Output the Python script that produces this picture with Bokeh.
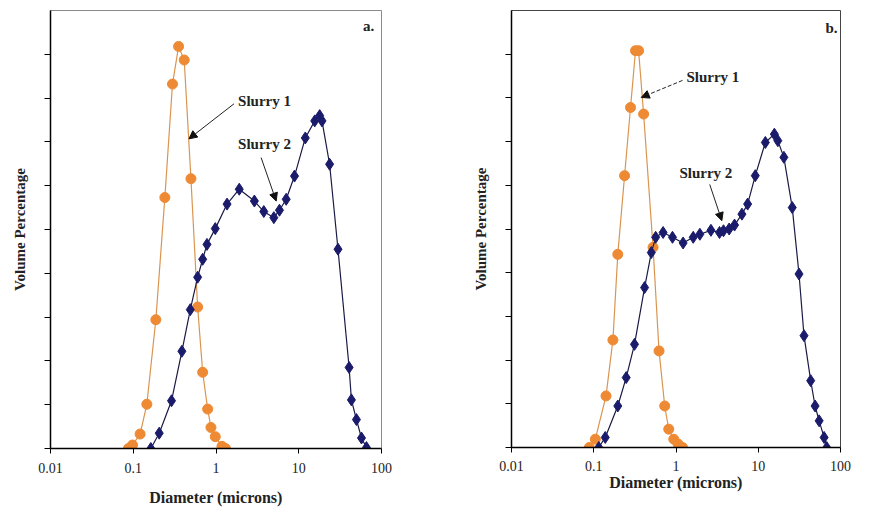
from bokeh.plotting import figure
from bokeh.layouts import row
from bokeh.models import Range1d, FixedTicker, CustomJSTickFormatter, Arrow, NormalHead, Label
from bokeh.embed import file_html
from bokeh.resources import INLINE

# ---------------- data ----------------
x_ticks = [0.01, 0.1, 1, 10, 100]
y_ticks = [0, 1, 2, 3, 4, 5, 6, 7, 8, 9]

# Panel a
a_s1_x = [0.0875, 0.098, 0.121, 0.146, 0.1875, 0.241, 0.298, 0.353, 0.413, 0.498, 0.600, 0.690, 0.793, 0.869, 0.98, 1.18, 1.30]
a_s1_y = [0.0, 0.08, 0.33, 1.01, 2.94, 5.73, 8.32, 9.18, 8.87, 6.16, 3.23, 1.74, 0.90, 0.48, 0.27, 0.05, 0.0]
a_s2_x = [0.163, 0.206, 0.290, 0.387, 0.489, 0.600, 0.690, 0.778, 0.98, 1.36, 1.91, 2.91, 3.78, 5.0, 5.85, 7.05, 8.89,
          12.0, 15.6, 17.9, 19.1, 23.6, 29.8, 40.6, 43.3, 49.8, 57.3, 65.8]
a_s2_y = [0.0, 0.35, 1.09, 2.22, 3.17, 3.91, 4.32, 4.66, 5.02, 5.58, 5.92, 5.65, 5.41, 5.27, 5.44, 5.69, 6.22,
          7.09, 7.48, 7.60, 7.48, 6.49, 4.55, 1.85, 1.11, 0.66, 0.24, 0.02]

# Panel b
b_s1_x = [0.0882, 0.1045, 0.141, 0.171, 0.196, 0.237, 0.280, 0.322, 0.351, 0.404, 0.526, 0.622, 0.729, 0.816, 0.94, 1.06, 1.20]
b_s1_y = [0.0, 0.19, 1.18, 2.46, 4.42, 6.22, 7.78, 9.08, 9.08, 7.63, 4.58, 2.21, 0.95, 0.42, 0.19, 0.08, 0.0]
b_s2_x = [0.115, 0.138, 0.196, 0.248, 0.313, 0.415, 0.501, 0.566, 0.697, 0.906, 1.22, 1.62, 1.95, 2.66, 3.38, 3.78,
          4.43, 5.15, 6.33, 7.43, 9.2, 12.2, 15.7, 17.3, 20.5, 25.9, 31.3, 36.0, 43.4, 49.1, 55.0, 63.2, 68.0]
b_s2_y = [0.0, 0.23, 0.95, 1.60, 2.36, 3.66, 4.46, 4.81, 4.92, 4.81, 4.68, 4.81, 4.88, 4.97, 4.92, 4.96,
          5.00, 5.09, 5.34, 5.57, 6.22, 6.98, 7.17, 7.02, 6.64, 5.49, 3.97, 2.56, 1.53, 0.95, 0.61, 0.23, 0.0]

# annotation anchors (data units): text x, text y, arrow start x, y, arrow end x, y
a_ann = {"Slurry 1": (1.85, 7.94, 1.65, 7.87, 0.471, 7.07),
         "Slurry 2": (1.85, 6.96, 3.51, 6.64, 5.34, 5.65)}
b_ann = {"Slurry 1": (1.34, 8.47, 1.20, 8.40, 0.378, 8.01),
         "Slurry 2": (1.10, 6.29, 2.57, 6.02, 3.61, 5.19)}
panel_tags = {"a": ("a.", 82.0, 9.65), "b": ("b.", 92.0, 9.61)}

ORANGE = "#EE8A33"
ORANGE_LINE = "#D9954F"
NAVY = "#1B1B6B"
NAVY_LINE = "#1A1A45"
FONT = "Liberation Serif"


def make_panel(fw, fh, border_l, border_r, border_t, border_b, s1x, s1y, s2x, s2y, ann, tag, dashed1,
               xl_standoff, xt_standoff, yl_standoff, outline):
    p = figure(frame_width=fw, frame_height=fh, x_axis_type="log",
               x_range=Range1d(0.01, 100), y_range=Range1d(0, 10),
               output_backend="svg", toolbar_location=None,
               min_border_left=border_l, min_border_right=border_r,
               min_border_top=border_t, min_border_bottom=border_b)
    p.grid.visible = False
    p.outline_line_color = outline
    p.outline_line_width = 1
    p.background_fill_color = "white"
    p.border_fill_color = "white"

    p.xaxis.ticker = FixedTicker(ticks=x_ticks)
    p.xaxis.formatter = CustomJSTickFormatter(code="return String(tick)")
    p.xaxis.minor_tick_line_color = None
    p.xaxis.major_tick_in = 0
    p.xaxis.major_tick_out = 5
    p.xaxis.major_label_standoff = xt_standoff
    p.xaxis.major_label_text_font = FONT
    p.xaxis.major_label_text_font_size = "14px"
    p.xaxis.major_label_text_color = "#222222"
    p.xaxis.axis_label = "Diameter (microns)"
    p.xaxis.axis_label_text_font = FONT
    p.xaxis.axis_label_text_font_size = "16px"
    p.xaxis.axis_label_text_font_style = "bold"
    p.xaxis.axis_label_text_color = "#222222"
    p.xaxis.axis_label_standoff = xl_standoff
    p.xaxis.axis_line_width = 1.5

    p.yaxis.ticker = FixedTicker(ticks=y_ticks)
    p.yaxis.formatter = CustomJSTickFormatter(code="return ''")
    p.yaxis.minor_tick_line_color = None
    p.yaxis.major_tick_in = 0
    p.yaxis.major_tick_out = 6
    p.yaxis.major_label_standoff = 0
    p.yaxis.axis_label = "Volume Percentage"
    p.yaxis.axis_label_text_font = FONT
    p.yaxis.axis_label_text_font_size = "15px"
    p.yaxis.axis_label_text_font_style = "bold"
    p.yaxis.axis_label_text_color = "#222222"
    p.yaxis.axis_label_standoff = yl_standoff
    p.yaxis.axis_line_width = 1.5

    p.line(s1x, s1y, line_color=ORANGE_LINE, line_width=1.2)
    p.scatter(s1x, s1y, marker="circle", size=10, fill_color=ORANGE, line_color=ORANGE)
    p.line(s2x, s2y, line_color=NAVY_LINE, line_width=1.2)
    p.scatter(s2x, s2y, marker="diamond", size=12, fill_color=NAVY, line_color=NAVY)

    for name, (tx, ty, ax0, ay0, ax1, ay1) in ann.items():
        p.add_layout(Label(x=tx, y=ty, text=name, text_font=FONT, text_font_size="15px",
                           text_font_style="bold", text_color="#222222", text_baseline="middle"))
        dash = "4 2" if (dashed1 and name == "Slurry 1") else "solid"
        p.add_layout(Arrow(x_start=ax0, y_start=ay0, x_end=ax1, y_end=ay1,
                           line_color="#222222", line_width=1, line_dash=dash,
                           end=NormalHead(size=8, fill_color="#111111", line_color="#111111")))
    t, tx, ty = tag
    p.add_layout(Label(x=tx, y=ty, text=t, text_font=FONT, text_font_size="15px",
                       text_font_style="bold", text_color="#222222", text_align="right",
                       text_baseline="middle"))
    return p


p1 = make_panel(331, 438, 50, 54, 10, 55, a_s1_x, a_s1_y, a_s2_x, a_s2_y, a_ann, panel_tags["a"], False,
                xl_standoff=13, xt_standoff=9, yl_standoff=17, outline="#8a8a8a")
p2 = make_panel(329, 437, 76, 30, 8, 55, b_s1_x, b_s1_y, b_s2_x, b_s2_y, b_ann, panel_tags["b"], True,
                xl_standoff=0, xt_standoff=8, yl_standoff=17, outline="#444444")

layout = row(p1, p2)
open("out.html", "w").write(file_html(layout, INLINE))
